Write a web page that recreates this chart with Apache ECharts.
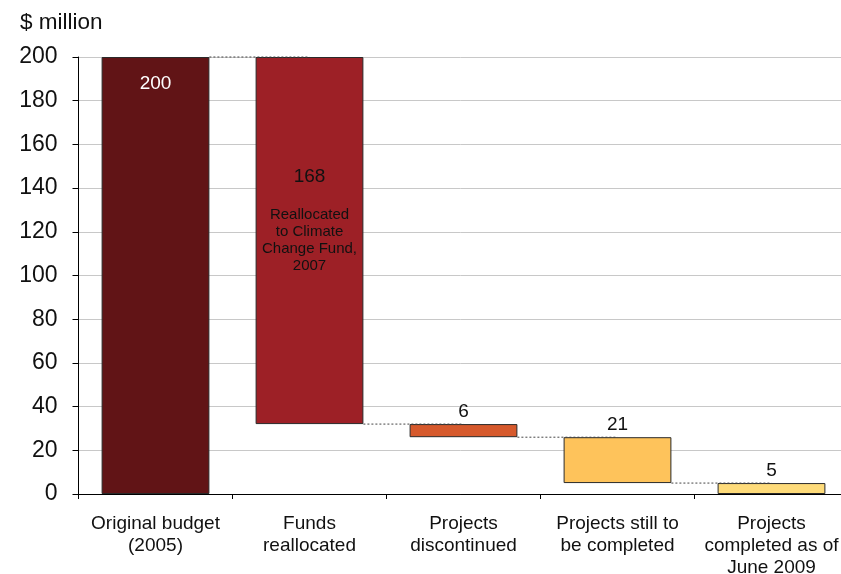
<!DOCTYPE html>
<html>
<head>
<meta charset="utf-8">
<script src="https://cdn.jsdelivr.net/npm/echarts@6/dist/echarts.min.js"></script>
<style>
  html, body { margin: 0; padding: 0; background: #ffffff; }
  #chart { width: 841px; height: 574px; }
</style>
</head>
<body>
<div id="chart"></div>
<script>
// Waterfall: original budget broken down into where the money went
const categories = [
  'Original budget\n(2005)',
  'Funds\nreallocated',
  'Projects\ndiscontinued',
  'Projects still to\nbe completed',
  'Projects\ncompleted as of\nJune 2009'
];
const values = [200, 168, 6, 21, 5];
// 'total' bars start from zero, 'step' bars hang down from the running level
const kinds = ['total', 'step', 'step', 'step', 'total'];
const colors = ['#611416', '#9d2026', '#d6592c', '#fec35b', '#fedb7a'];
const yTicks = { min: 0, max: 200, interval: 20 };
const note = 'Reallocated\nto Climate\nChange Fund,\n2007';

// Running level -> invisible base under each bar
const bases = [];
let level = 0;
values.forEach((v, i) => {
  if (kinds[i] === 'total') {
    bases.push(0);
    level = v;
  } else {
    level = level - v;
    bases.push(level);
  }
});

const FONT = 'Liberation Sans, Arial, sans-serif';

const labelFor = (i) => {
  if (i === 0) {
    return { show: true, position: 'insideTop', distance: 17, color: '#ffffff', fontSize: 19 };
  }
  if (i === 1) {
    return {
      show: true, position: 'insideTop', distance: 108,
      formatter: () => '{big|' + values[1] + '}\n{gap|}\n{small|' + note + '}',
      rich: {
        big: { fontSize: 19, color: '#111', lineHeight: 24, fontFamily: FONT },
        gap: { fontSize: 6, lineHeight: 17 },
        small: { fontSize: 15, color: '#111', lineHeight: 17, fontFamily: FONT }
      },
      align: 'center'
    };
  }
  return { show: true, position: 'top', distance: 3, color: '#111', fontSize: 19 };
};

// Connector segments: from right edge of bar i to the centre of bar i+1
const connectorData = [];
for (let i = 0; i < values.length - 1; i++) {
  const lv = kinds[i] === 'total' ? values[i] : bases[i];
  connectorData.push([i, lv]);
}

const chart = echarts.init(document.getElementById('chart'));
chart.setOption({
  animation: false,
  textStyle: { fontFamily: FONT },
  title: {
    text: '$ million', left: 15, top: 6,
    textStyle: { fontSize: 22.5, fontWeight: 'normal', color: '#111', fontFamily: FONT }
  },
  grid: { left: 78.5, top: 57, width: 770, height: 437, outerBoundsMode: 'none', containLabel: false },
  xAxis: {
    type: 'category',
    data: categories,
    axisLine: { lineStyle: { color: '#000', width: 1 } },
    axisTick: { show: true, length: 5, lineStyle: { color: '#000' } },
    axisLabel: { color: '#111', fontSize: 19, lineHeight: 22, margin: 19, interval: 0, fontFamily: FONT }
  },
  yAxis: {
    type: 'value',
    min: yTicks.min, max: yTicks.max, interval: yTicks.interval,
    axisLine: { show: true, lineStyle: { color: '#000', width: 1 } },
    axisTick: { show: true, length: 6, lineStyle: { color: '#000' } },
    axisLabel: { color: '#111', fontSize: 23, margin: 21, fontFamily: FONT },
    splitLine: { lineStyle: { color: '#c8c8c8', width: 1 } }
  },
  series: [
    {
      name: 'base', type: 'bar', stack: 'w', barWidth: '70%',
      itemStyle: { color: 'transparent' },
      silent: true,
      data: bases
    },
    {
      name: 'value', type: 'bar', stack: 'w', barWidth: '70%',
      data: values.map((v, i) => ({
        value: v,
        itemStyle: { color: colors[i], borderColor: '#2a2a2a', borderWidth: 1 },
        label: labelFor(i)
      }))
    },
    {
      name: 'connectors', type: 'custom', silent: true, z: 5,
      data: connectorData,
      renderItem: (params, api) => {
        const i = api.value(0);
        const lv = api.value(1);
        const p0 = api.coord([i, lv]);
        const p1 = api.coord([i + 1, lv]);
        const bw = api.size([1, 0])[0] * 0.7;
        return {
          type: 'line',
          shape: { x1: p0[0] + bw / 2, y1: p0[1], x2: p1[0], y2: p1[1] },
          style: { stroke: '#444', lineWidth: 1, lineDash: [2, 2] }
        };
      }
    }
  ]
});
</script>
</body>
</html>
